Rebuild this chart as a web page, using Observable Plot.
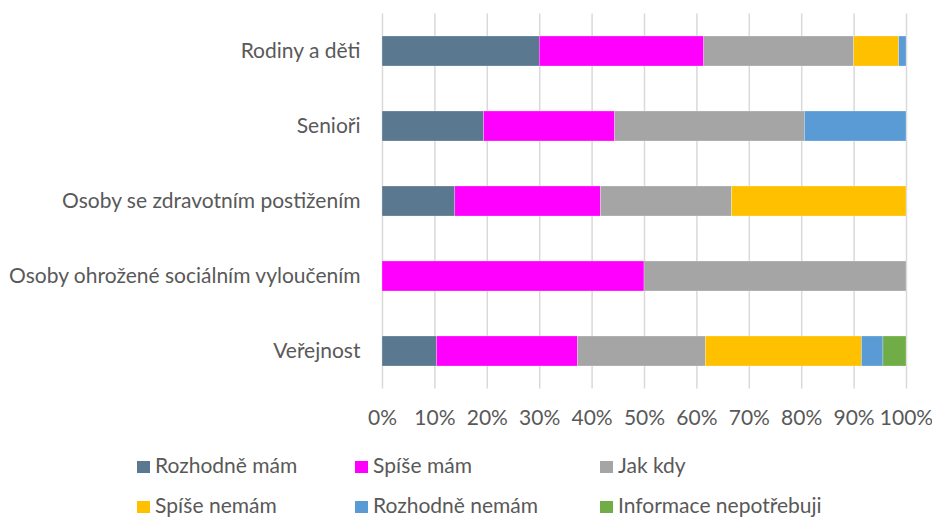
<!DOCTYPE html>
<html><head><meta charset="utf-8">
<script src="https://cdn.jsdelivr.net/npm/d3@7"></script>
<script src="https://cdn.jsdelivr.net/npm/@observablehq/plot@0.6"></script>
<style>
body{margin:0;background:#fff;font-family:Lato,"Open Sans",sans-serif;}
#wrap{position:relative;width:932px;height:518px;overflow:hidden;}
.lg{position:absolute;font-size:21px;line-height:25px;height:25px;color:#595959;white-space:nowrap;}
.sw{display:inline-block;width:13px;height:12px;margin-right:5px;vertical-align:baseline;}
</style></head><body><div id="wrap"></div>
<script>
const categories = ["Rodiny a děti","Senioři","Osoby se zdravotním postižením","Osoby ohrožené sociálním vyloučením","Veřejnost"];
const series = ["Rozhodně mám","Spíše mám","Jak kdy","Spíše nemám","Rozhodně nemám","Informace nepotřebuji"];
const colors = ["#5b7891","#ff00ff","#a5a5a5","#ffc000","#5b9bd5","#70ad47"];
const rozhodneMam = [30.0,19.4,13.9,0,10.4];
const spiseMam = [31.4,25.0,27.8,50,26.9];
const jakKdy = [28.6,36.2,25.0,50,24.4];
const spiseNemam = [8.6,0,33.3,0,29.8];
const rozhodneNemam = [1.4,19.4,0,0,4.1];
const infoNepotrebuji = [0,0,0,0,4.4];
const xTicks = [0,10,20,30,40,50,60,70,80,90,100];

const valueArrays = [rozhodneMam,spiseMam,jakKdy,spiseNemam,rozhodneNemam,infoNepotrebuji];
const rows = [];
categories.forEach((c,i)=>series.forEach((s,j)=>rows.push({cat:c,series:s,value:valueArrays[j][i]})));

const chart = Plot.plot({
  width:932, height:440,
  marginLeft:382, marginRight:26, marginTop:13.5, marginBottom:51.5,
  style:{fontFamily:"Lato, 'Open Sans', sans-serif", fontSize:"21px", color:"#595959", background:"#fff"},
  x:{domain:[0,100], ticks:xTicks, tickFormat:d=>d+"%", tickSize:0, tickPadding:21, label:null},
  y:{domain:categories, paddingInner:0.6, paddingOuter:0.3, tickSize:0, tickPadding:22, label:null},
  color:{domain:series, range:colors},
  marks:[
    Plot.gridX(xTicks,{stroke:"#d9d9d9", strokeOpacity:1, strokeWidth:1.5}),
    Plot.barX(rows, Plot.stackX({y:"cat", x:"value", fill:"series", order:series, stroke:"#fff", strokeWidth:0.4, strokeOpacity:0.6})),
    Plot.axisX({ticks:xTicks, tickFormat:d=>d+"%", tickSize:0, tickPadding:21, label:null, fill:"#595959"}),
    Plot.axisY({tickSize:0, tickPadding:22, label:null, fill:"#595959"})
  ]
});
const wrap = document.getElementById("wrap");
chart.style.position="absolute"; chart.style.left="0"; chart.style.top="0";
wrap.appendChild(chart);
const lx=[137,355,600], lyBase=[473,513];
series.forEach((s,i)=>{
  const d=document.createElement("div"); d.className="lg";
  d.style.left=lx[i%3]+"px"; d.style.top=(lyBase[Math.floor(i/3)]-20.6)+"px";
  const sw=document.createElement("span"); sw.className="sw"; sw.style.background=colors[i];
  d.appendChild(sw); d.appendChild(document.createTextNode(s)); wrap.appendChild(d);
});
</script></body></html>
